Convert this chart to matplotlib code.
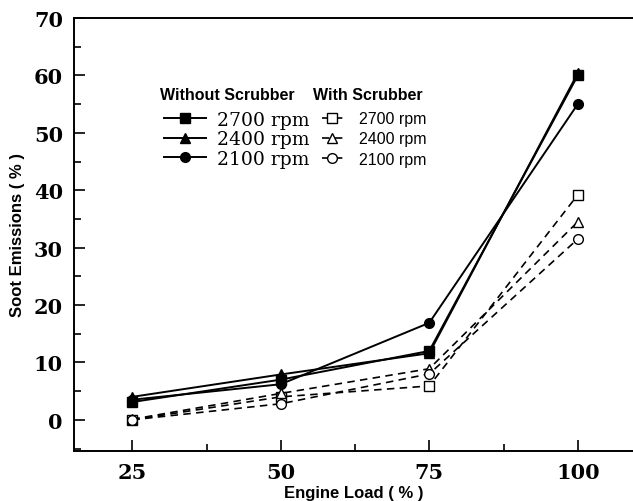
import numpy as np
import matplotlib.pyplot as plt
from matplotlib.ticker import MultipleLocator

# engine load (%)
load = [25, 50, 75, 100]

# soot emissions (%) without scrubber
soot_2700 = [3.1, 7.0, 12.0, 60.0]
soot_2400 = [4.0, 7.9, 11.6, 60.4]
soot_2100 = [3.5, 6.2, 16.9, 55.0]

# soot emissions (%) with scrubber
scr_2700 = [0.0, 4.0, 5.9, 39.2]
scr_2400 = [0.1, 4.6, 8.9, 34.5]
scr_2100 = [0.0, 2.8, 8.0, 31.5]

rpm_labels = ["2700 rpm", "2400 rpm", "2100 rpm"]

fig = plt.figure(figsize=(6.33, 5.02), dpi=100)
ax = fig.add_axes([0.117, 0.100, 0.883, 0.862])

dash = (0, (4.5, 3.2))
solid = []
for y, m in zip([soot_2700, soot_2400, soot_2100], ["s", "^", "o"]):
    l, = ax.plot(load, y, "-", color="black", lw=1.4, marker=m,
                 markersize=7, markerfacecolor="black")
    solid.append(l)

dashed = []
for y, m in zip([scr_2700, scr_2400, scr_2100], ["s", "^", "o"]):
    l, = ax.plot(load, y, color="black", lw=1.2, linestyle=dash, marker=m,
                 markersize=7, markerfacecolor="white", markeredgewidth=1.0)
    dashed.append(l)

ax.set_xlim(15.2, 109.3)
ax.set_ylim(-5.4, 70)
ax.xaxis.set_major_locator(MultipleLocator(25))
ax.xaxis.set_minor_locator(MultipleLocator(12.5))
ax.yaxis.set_major_locator(MultipleLocator(10))
ax.yaxis.set_minor_locator(MultipleLocator(5))
ax.tick_params(which="both", direction="in", width=1.2, top=False, right=False)
ax.tick_params(which="major", length=8, pad=8)
ax.tick_params(which="minor", length=5)
for lab in ax.get_xticklabels() + ax.get_yticklabels():
    lab.set_family("DejaVu Serif")
    lab.set_fontweight("bold")
    lab.set_fontsize(15)

ax.spines["right"].set_visible(False)
for s in ["left", "bottom", "top"]:
    ax.spines[s].set_linewidth(1.4)

ax.set_xlabel("Engine Load ( % )", family="Liberation Sans", fontweight="bold",
              fontsize=12, labelpad=2)
ax.set_ylabel("Soot Emissions ( % )", family="Liberation Sans", fontweight="bold",
              fontsize=12, labelpad=6)

# legend headers
head = {"family": "Liberation Sans", "fontweight": "bold", "fontsize": 11.5,
        "va": "center", "ha": "left", "transform": ax.transAxes}
ax.text(0.154, 0.8245, "Without Scrubber", **head)
ax.text(0.4276, 0.8245, "With Scrubber", **head)

leg1 = ax.legend(solid, rpm_labels, loc="upper left", bbox_to_anchor=(0.145, 0.807),
                 frameon=False, borderpad=0, handlelength=2.2, handletextpad=0.6,
                 labelspacing=0.07, numpoints=1,
                 prop={"family": "DejaVu Serif", "size": 13.5})
ax.add_artist(leg1)
leg2 = ax.legend(dashed, rpm_labels, loc="upper left", bbox_to_anchor=(0.4294, 0.803),
                 frameon=False, borderpad=0, handlelength=1.3, handletextpad=1.0,
                 labelspacing=0.32, numpoints=1,
                 prop={"family": "Liberation Sans", "size": 11.5})

fig.savefig("out.png", dpi=100)
